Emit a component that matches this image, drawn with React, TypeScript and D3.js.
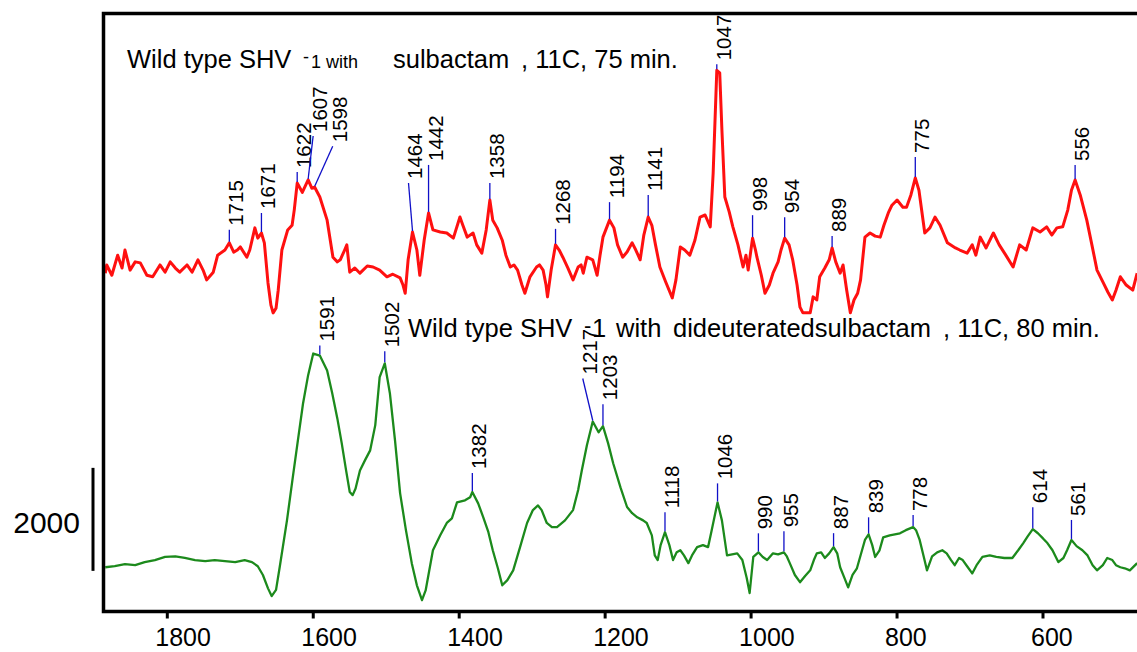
import React from 'react';
import * as d3 from 'd3';

// ---------- data ----------
const xTicks = [1800, 1600, 1400, 1200, 1000, 800, 600];

// [wavenumber (cm-1), intensity]
const redSpectrum: [number, number][] = [
  [1885,-100],[1883,60],[1876,-140],[1868,250],[1862,0],[1858,350],[1851,-40],[1844,120],[1837,100],[1828,-140],
  [1820,-170],[1810,60],[1803,-80],[1796,120],[1789,0],[1783,-80],[1773,60],[1766,-80],[1758,160],[1751,-40],
  [1746,-230],[1737,-80],[1731,250],[1721,350],[1715,490],[1709,310],[1704,350],[1700,410],[1691,210],[1687,350],
  [1680,780],[1676,580],[1671,680],[1667,490],[1662,-290],[1658,-720],[1655,-870],[1651,-780],[1648,-430],[1643,350],
  [1635,740],[1629,830],[1626,1130],[1622,1650],[1615,1470],[1607,1710],[1602,1550],[1598,1570],[1591,1380],[1581,930],
  [1573,210],[1567,120],[1563,160],[1557,350],[1554,450],[1550,-80],[1543,0],[1536,-100],[1526,40],[1518,20],
  [1509,-40],[1499,-170],[1491,-120],[1481,-190],[1477,-330],[1474,-490],[1470,160],[1464,700],[1458,350],[1454,-140],
  [1448,540],[1442,1070],[1436,740],[1426,700],[1417,680],[1408,580],[1399,990],[1395,830],[1389,600],[1381,680],
  [1376,450],[1369,290],[1363,740],[1358,1320],[1354,930],[1348,780],[1341,540],[1336,250],[1330,20],[1325,60],
  [1320,-40],[1314,-330],[1310,-490],[1303,-170],[1294,20],[1290,60],[1285,-40],[1281,-330],[1279,-560],[1274,-40],
  [1268,450],[1263,350],[1258,210],[1251,0],[1244,-230],[1237,20],[1233,60],[1230,-100],[1225,210],[1217,160],
  [1211,-140],[1207,250],[1203,600],[1194,930],[1188,780],[1183,450],[1176,210],[1170,310],[1163,490],[1158,350],
  [1152,160],[1147,640],[1141,990],[1136,830],[1131,450],[1125,20],[1117,-270],[1108,-580],[1103,-230],[1097,410],
  [1091,350],[1084,250],[1077,540],[1070,990],[1063,1030],[1056,800],[1052,1840],[1047,3840],[1043,3790],[1040,2680],
  [1036,1380],[1030,1090],[1025,800],[1018,450],[1011,20],[1007,250],[1004,-40],[998,580],[994,350],[992,210],
  [986,-140],[981,-490],[975,-330],[970,-100],[963,120],[959,350],[954,580],[948,450],[943,160],[937,-330],
  [933,-760],[929,-870],[923,-870],[919,-870],[915,-560],[910,-620],[906,-170],[899,0],[893,160],[889,390],
  [884,120],[878,-100],[874,60],[869,-430],[864,-870],[859,-620],[854,-490],[850,-230],[844,600],[837,680],
  [830,620],[823,600],[818,830],[812,1070],[807,1220],[800,1320],[792,1180],[787,1180],[781,1420],[775,1750],
  [770,1510],[762,680],[755,780],[748,990],[741,830],[731,490],[720,390],[714,350],[704,290],[697,450],
  [692,250],[686,600],[678,390],[668,680],[660,450],[651,250],[641,20],[632,450],[623,350],[614,780],
  [604,700],[595,800],[588,640],[581,780],[573,800],[566,1130],[561,1510],[556,1710],[549,1420],[540,930],
  [533,450],[526,-40],[518,-270],[511,-470],[505,-620],[500,-430],[494,-170],[486,-330],[477,-430],[471,-100],
];

const greenSpectrum: [number, number][] = [
  [1885,-40],[1872,-20],[1858,20],[1844,0],[1831,60],[1817,100],[1803,160],[1789,170],[1776,140],[1762,100],
  [1748,80],[1735,100],[1721,80],[1707,60],[1694,100],[1684,60],[1676,-20],[1669,-190],[1662,-450],[1657,-600],
  [1651,-480],[1646,-40],[1636,870],[1628,1710],[1621,2430],[1614,3140],[1607,3690],[1600,4110],[1591,4070],[1581,3780],
  [1574,3340],[1567,2850],[1561,2370],[1555,1840],[1550,1420],[1546,1360],[1542,1490],[1536,1840],[1529,2040],[1522,2230],
  [1515,2720],[1509,3650],[1502,3920],[1495,3340],[1488,2430],[1481,1400],[1473,680],[1465,40],[1458,-390],[1451,-680],
  [1446,-490],[1436,290],[1426,580],[1417,820],[1410,910],[1403,1220],[1392,1260],[1385,1320],[1382,1420],[1374,1200],
  [1367,930],[1360,640],[1354,290],[1347,-60],[1341,-390],[1334,-290],[1326,-100],[1317,330],[1307,820],[1299,1070],
  [1292,1160],[1287,1070],[1280,820],[1273,740],[1266,740],[1255,870],[1244,1070],[1237,1460],[1232,1840],[1225,2330],
  [1217,2790],[1209,2580],[1203,2700],[1196,2370],[1189,1980],[1179,1510],[1170,1130],[1163,1010],[1156,930],[1148,870],
  [1143,820],[1136,580],[1132,190],[1128,100],[1124,390],[1118,640],[1112,390],[1107,100],[1102,250],[1097,290],
  [1092,190],[1086,40],[1081,190],[1074,350],[1066,390],[1059,350],[1054,680],[1046,1220],[1040,870],[1033,190],
  [1026,210],[1019,230],[1012,100],[1006,-250],[1002,-540],[997,160],[990,250],[984,160],[978,100],[970,230],
  [963,210],[955,250],[951,170],[947,40],[940,-190],[933,-330],[926,-210],[919,-100],[914,100],[910,230],
  [904,250],[899,140],[893,230],[887,350],[882,230],[878,-40],[872,-250],[867,-430],[861,-190],[855,-60],
  [848,290],[844,490],[839,600],[834,390],[830,160],[824,290],[819,540],[810,580],[803,600],[796,620],
  [788,680],[778,740],[774,680],[769,490],[763,140],[759,-100],[752,170],[745,250],[738,290],[732,230],
  [726,100],[721,0],[715,140],[710,100],[704,-20],[697,-160],[691,0],[683,160],[673,190],[664,160],
  [653,140],[642,140],[634,290],[627,430],[621,560],[614,700],[607,620],[600,520],[594,430],[587,290],
  [579,60],[572,140],[567,290],[561,490],[554,370],[546,290],[539,190],[532,0],[526,-100],[518,0],
  [512,140],[505,100],[500,0],[494,-40],[488,-60],[481,-100],[471,40],
];

const redPeaks = [1715, 1671, 1622, 1607, 1598, 1464, 1442, 1358, 1268, 1194, 1141, 1047, 998, 954, 889, 775, 556];
const greenPeaks = [1591, 1502, 1382, 1217, 1203, 1118, 1046, 990, 955, 887, 839, 778, 614, 561];

const scaleBarValue = 2000;
const redTitle = ['Wild type SHV', '-', '1 with', 'sulbactam', ', 11C, 75 min.'];
const greenTitle = ['Wild type SHV', '-', '1', 'with', 'dideuteratedsulbactam', ', 11C, 80 min.'];

// ---------- layout ----------
const W = 1137;
const H = 652;
const FRAME_L = 103.5;
const FRAME_T = 13.5;
const FRAME_B = 611.5;
const FRAME_R = 1146;
const FONT = '"Liberation Sans", Arial, Helvetica, sans-serif';

const RED_OFFSET = 6640;
const GREEN_OFFSET = 870;
const SCALEBAR_BASE = 760;

// leader layout per peak: [line length px, horizontal shift px]
const redLeader: Record<number, [number, number]> = {
  1715: [13, 0], 1671: [20, 0], 1622: [11, 0], 1607: [44, 5], 1598: [41, 18], 1464: [49, -4],
  1442: [48, 0], 1358: [17, 0], 1268: [16, 0], 1194: [18, 0], 1141: [22, 0], 1047: [6, 0],
  998: [23, 0], 954: [21, 0], 889: [12, 0], 775: [21, 0], 556: [15, 0],
};
const greenLeader: Record<number, [number, number]> = {
  1591: [10, 0], 1502: [12, 0], 1382: [19, 0], 1217: [43, -10], 1203: [22, 0], 1118: [20, 0],
  1046: [19, 0], 990: [19, 0], 955: [21, 0], 887: [14, 0], 839: [17, 0], 778: [12, 0],
  614: [22, 0], 561: [20, 0],
};

const xScale = d3.scaleLinear().domain([1800, 600]).range([167.3, 1043]);
const yScale = d3.scaleLinear().domain([0, 2000]).range([610, 507]);

function valueAt(data: [number, number][], wn: number): number {
  let best = data[0];
  for (const d of data) if (Math.abs(d[0] - wn) < Math.abs(best[0] - wn)) best = d;
  return best[1];
}

function Spectrum({ data, offset, color, width }: { data: [number, number][]; offset: number; color: string; width: number }) {
  const line = d3
    .line<[number, number]>()
    .x((d) => xScale(d[0]))
    .y((d) => yScale(d[1] + offset));
  return <path d={line(data) || ''} fill="none" stroke={color} strokeWidth={width} strokeLinejoin="round" />;
}

function Peaks({ data, peaks, offset, leader }: { data: [number, number][]; peaks: number[]; offset: number; leader: Record<number, [number, number]> }) {
  return (
    <g>
      {peaks.map((wn) => {
        const px = xScale(wn);
        const py = yScale(valueAt(data, wn) + offset);
        const [len, dx] = leader[wn] || [15, 0];
        const tx = px + dx;
        const ty = py - len;
        return (
          <g key={wn}>
            <line x1={px} y1={py - 1} x2={tx} y2={ty} stroke="#1010c8" strokeWidth={1.3} />
            <text
              transform={`translate(${tx + 14},${ty - 4}) rotate(-90)`}
              fontSize={20.5}
              fontFamily={FONT}
              fill="#000"
              textAnchor="start"
            >
              {String(wn)}
            </text>
          </g>
        );
      })}
    </g>
  );
}

export default function App() {
  return (
    <svg width={W} height={H} style={{ position: 'absolute', left: 0, top: 0, background: '#fff' }}>
      <defs>
        <clipPath id="plotclip">
          <rect x={FRAME_L + 1} y={FRAME_T + 1} width={FRAME_R - FRAME_L} height={FRAME_B - FRAME_T - 2} />
        </clipPath>
      </defs>
      <rect x={0} y={0} width={W} height={H} fill="#fff" />

      <g clipPath="url(#plotclip)">
        <Spectrum data={greenSpectrum} offset={GREEN_OFFSET} color="#1c8a1c" width={2.3} />
        <Spectrum data={redSpectrum} offset={RED_OFFSET} color="#ff1010" width={3} />
      </g>

      <Peaks data={redSpectrum} peaks={redPeaks} offset={RED_OFFSET} leader={redLeader} />
      <Peaks data={greenSpectrum} peaks={greenPeaks} offset={GREEN_OFFSET} leader={greenLeader} />

      {/* titles */}
      <g fontFamily={FONT} fill="#000">
        <text x={127} y={68} fontSize={25.5}>{redTitle[0]}</text>
        <text x={303} y={63} fontSize={18}>{redTitle[1]}</text>
        <text x={311} y={68} fontSize={18}>{redTitle[2]}</text>
        <text x={393} y={68} fontSize={25.5}>{redTitle[3]}</text>
        <text x={521} y={68} fontSize={25.5}>{redTitle[4]}</text>

        <text x={408} y={337} fontSize={25.5}>{greenTitle[0]}</text>
        <text x={584} y={333} fontSize={22}>{greenTitle[1]}</text>
        <text x={592} y={337} fontSize={25.5}>{greenTitle[2]}</text>
        <text x={616} y={337} fontSize={25.5}>{greenTitle[3]}</text>
        <text x={673} y={337} fontSize={25.5}>{greenTitle[4]}</text>
        <text x={943} y={337} fontSize={25.5}>{greenTitle[5]}</text>
      </g>

      {/* frame */}
      <path
        d={`M${FRAME_R},${FRAME_T} H${FRAME_L} V${FRAME_B} H${FRAME_R}`}
        fill="none"
        stroke="#000"
        strokeWidth={3.5}
      />

      {/* x axis ticks */}
      {xTicks.map((t) => (
        <g key={t}>
          <line x1={xScale(t)} x2={xScale(t)} y1={FRAME_B} y2={FRAME_B + 7} stroke="#000" strokeWidth={3} />
          <text x={xScale(t) - 12} y={646} fontSize={25} fontFamily={FONT} textAnchor="start" fill="#000">
            {String(t)}
          </text>
        </g>
      ))}

      {/* intensity scale bar */}
      <line
        x1={93}
        x2={93}
        y1={yScale(SCALEBAR_BASE)}
        y2={yScale(SCALEBAR_BASE + scaleBarValue)}
        stroke="#000"
        strokeWidth={3}
      />
      <text x={80} y={533} fontSize={30} fontFamily={FONT} textAnchor="end" fill="#000">
        {String(scaleBarValue)}
      </text>
    </svg>
  );
}
